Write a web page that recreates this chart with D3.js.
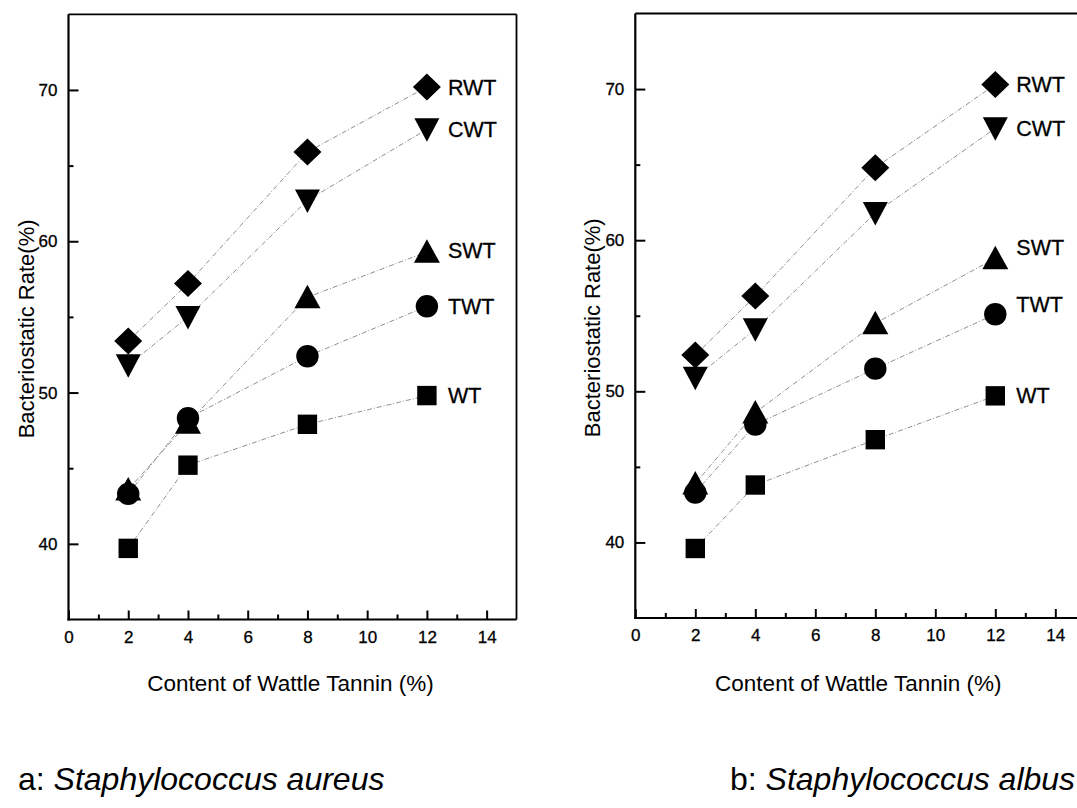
<!DOCTYPE html>
<html><head><meta charset="utf-8">
<script src="https://cdn.jsdelivr.net/npm/d3@7"></script>
<style>
html,body{margin:0;padding:0;background:#fff;}
svg{display:block;}
text{font-family:"Liberation Sans",Arial,Helvetica,sans-serif;fill:#000;}
</style></head><body>
<svg id="chart" width="1077" height="808"></svg>
<script>
// ---------- data ----------
const xPoints = [2, 4, 8, 12];
const seriesNames = ["RWT", "CWT", "SWT", "TWT", "WT"];
const seriesSymbols = ["diamond", "triangleDown", "triangleUp", "circle", "square"];
const xTickValues = [0, 2, 4, 6, 8, 10, 12, 14];
const xMinorTicks = [1, 3, 5, 7, 9, 11, 13];
const yTickValues = [40, 50, 60, 70];
const yMinorTicks = [45, 55, 65];
const xAxisTitle = "Content of Wattle Tannin (%)";
const yAxisTitle = "Bacteriostatic Rate(%)";
const captionPrefixes = ["a: ", "b: "];
const captionSpecies = ["Staphylococcus aureus", "Staphylococcus albus"];

const aureusRWT = [53.4, 57.2, 65.9, 70.2];
const aureusCWT = [51.8, 55.0, 62.7, 67.4];
const aureusSWT = [43.6, 48.0, 56.3, 59.3];
const aureusTWT = [43.3, 48.3, 52.4, 55.7];
const aureusWT  = [39.7, 45.2, 47.9, 49.8];

const albusRWT = [52.4, 56.3, 64.8, 70.3];
const albusCWT = [50.9, 54.1, 61.8, 67.4];
const albusSWT = [43.9, 48.6, 54.5, 58.8];
const albusTWT = [43.3, 47.8, 51.5, 55.1];
const albusWT  = [39.6, 43.8, 46.8, 49.7];

const panelSeries = [
  [aureusRWT, aureusCWT, aureusSWT, aureusTWT, aureusWT],
  [albusRWT, albusCWT, albusSWT, albusTWT, albusWT]
];

// ---------- layout (styles / positions) ----------
const panels = [
  {left: 68.5, right: 516.5, bottom: 619.5, top: 14.3, labelDy: [0, 0, -2, 0, 0], captionX: 18},
  {left: 635.3, right: 1085.3, bottom: 618, top: 13.5, labelDy: [0, 0, -11, -10, -1], captionX: 730}
];
const xDomain = [0, 15];
const yDomain = [35, 75];
const lineColor = "#8f8f8f";

const svg = d3.select("#chart");

function symbolPath(type, cx, cy) {
  const p = d3.path();
  if (type === "diamond") {
    p.moveTo(cx, cy - 13.5); p.lineTo(cx + 14, cy); p.lineTo(cx, cy + 13.5); p.lineTo(cx - 14, cy); p.closePath();
  } else if (type === "triangleDown") {
    p.moveTo(cx - 12.5, cy - 11); p.lineTo(cx + 12.5, cy - 11); p.lineTo(cx, cy + 12.5); p.closePath();
  } else if (type === "triangleUp") {
    p.moveTo(cx - 13, cy + 11); p.lineTo(cx + 13, cy + 11); p.lineTo(cx, cy - 12.5); p.closePath();
  } else if (type === "square") {
    p.rect(cx - 9.7, cy - 9.7, 19.4, 19.4);
  } else {
    p.arc(cx, cy, 11.2, 0, 2 * Math.PI);
  }
  return p.toString();
}

panels.forEach((pn, pi) => {
  const x = d3.scaleLinear().domain(xDomain).range([pn.left, pn.right]);
  const y = d3.scaleLinear().domain(yDomain).range([pn.bottom, pn.top]);
  const g = svg.append("g");

  // bottom axis major
  const bx = g.append("g").attr("transform", `translate(0,${pn.bottom})`)
    .call(d3.axisBottom(x).tickValues(xTickValues).tickSizeInner(-9).tickSizeOuter(0).tickPadding(11).tickFormat(d3.format("d")));
  bx.select(".domain").remove();
  bx.selectAll(".tick line").attr("stroke", "#000").attr("stroke-width", 2);
  bx.selectAll(".tick text").attr("font-size", 17).attr("font-family", "Liberation Sans, Arial, sans-serif")
    .attr("stroke", "#000").attr("stroke-width", 0.3);
  // bottom axis minor
  const bxm = g.append("g").attr("transform", `translate(0,${pn.bottom})`)
    .call(d3.axisBottom(x).tickValues(xMinorTicks).tickSizeInner(-5).tickSizeOuter(0).tickFormat(""));
  bxm.select(".domain").remove();
  bxm.selectAll(".tick line").attr("stroke", "#000").attr("stroke-width", 2);

  // left axis major
  const ly = g.append("g").attr("transform", `translate(${pn.left},0)`)
    .call(d3.axisLeft(y).tickValues(yTickValues).tickSizeInner(-10).tickSizeOuter(0).tickPadding(11).tickFormat(d3.format("d")));
  ly.select(".domain").remove();
  ly.selectAll(".tick line").attr("stroke", "#000").attr("stroke-width", 2);
  ly.selectAll(".tick text").attr("font-size", 17).attr("font-family", "Liberation Sans, Arial, sans-serif")
    .attr("stroke", "#000").attr("stroke-width", 0.3);
  const lym = g.append("g").attr("transform", `translate(${pn.left},0)`)
    .call(d3.axisLeft(y).tickValues(yMinorTicks).tickSizeInner(-5).tickSizeOuter(0).tickFormat(""));
  lym.select(".domain").remove();
  lym.selectAll(".tick line").attr("stroke", "#000").attr("stroke-width", 2);

  // frame
  g.append("line").attr("x1", x(0)).attr("x2", x(15)).attr("y1", y(75)).attr("y2", y(75)).attr("stroke", "#000").attr("stroke-width", 1.8);
  g.append("line").attr("x1", x(15)).attr("x2", x(15)).attr("y1", y(75)).attr("y2", y(35)).attr("stroke", "#000").attr("stroke-width", 1.8);
  g.append("line").attr("x1", x(0)).attr("x2", x(0)).attr("y1", y(75)).attr("y2", y(35) + 1).attr("stroke", "#000").attr("stroke-width", 2.2);
  g.append("line").attr("x1", x(0) - 1).attr("x2", x(15)).attr("y1", y(35)).attr("y2", y(35)).attr("stroke", "#000").attr("stroke-width", 2.2);

  // series lines
  const line = d3.line().x((d, i) => x(xPoints[i])).y(d => y(d));
  panelSeries[pi].forEach(vals => {
    g.append("path").attr("d", line(vals)).attr("fill", "none")
      .attr("stroke", lineColor).attr("stroke-width", 1).attr("stroke-dasharray", "5,2,1,2");
  });
  // markers
  panelSeries[pi].forEach((vals, si) => {
    g.selectAll(null).data(vals).enter().append("path")
      .attr("d", (d, i) => symbolPath(seriesSymbols[si], x(xPoints[i]), y(d)))
      .attr("fill", "#000");
  });
  // end labels
  panelSeries[pi].forEach((vals, si) => {
    const last = vals.length - 1;
    g.append("text").attr("x", x(xPoints[last]) + 21).attr("y", y(vals[last]) + pn.labelDy[si])
      .attr("dy", "0.36em").attr("font-size", 21.5).attr("stroke", "#000").attr("stroke-width", 0.3)
      .text(seriesNames[si]);
  });

  // axis titles
  g.append("text").attr("transform", `translate(${pn.left - 35},${(pn.top + pn.bottom) / 2 + 12}) rotate(-90)`)
    .attr("text-anchor", "middle").attr("font-size", 22).text(yAxisTitle);
  g.append("text").attr("x", (pn.left + pn.right) / 2 - 2).attr("y", 691)
    .attr("text-anchor", "middle").attr("font-size", 22.5).text(xAxisTitle);

  // caption
  const cap = svg.append("text").attr("x", pn.captionX).attr("y", 790).attr("font-size", 32);
  cap.append("tspan").text(captionPrefixes[pi]);
  cap.append("tspan").attr("font-style", "italic").text(captionSpecies[pi]);
});
</script>
</body></html>
